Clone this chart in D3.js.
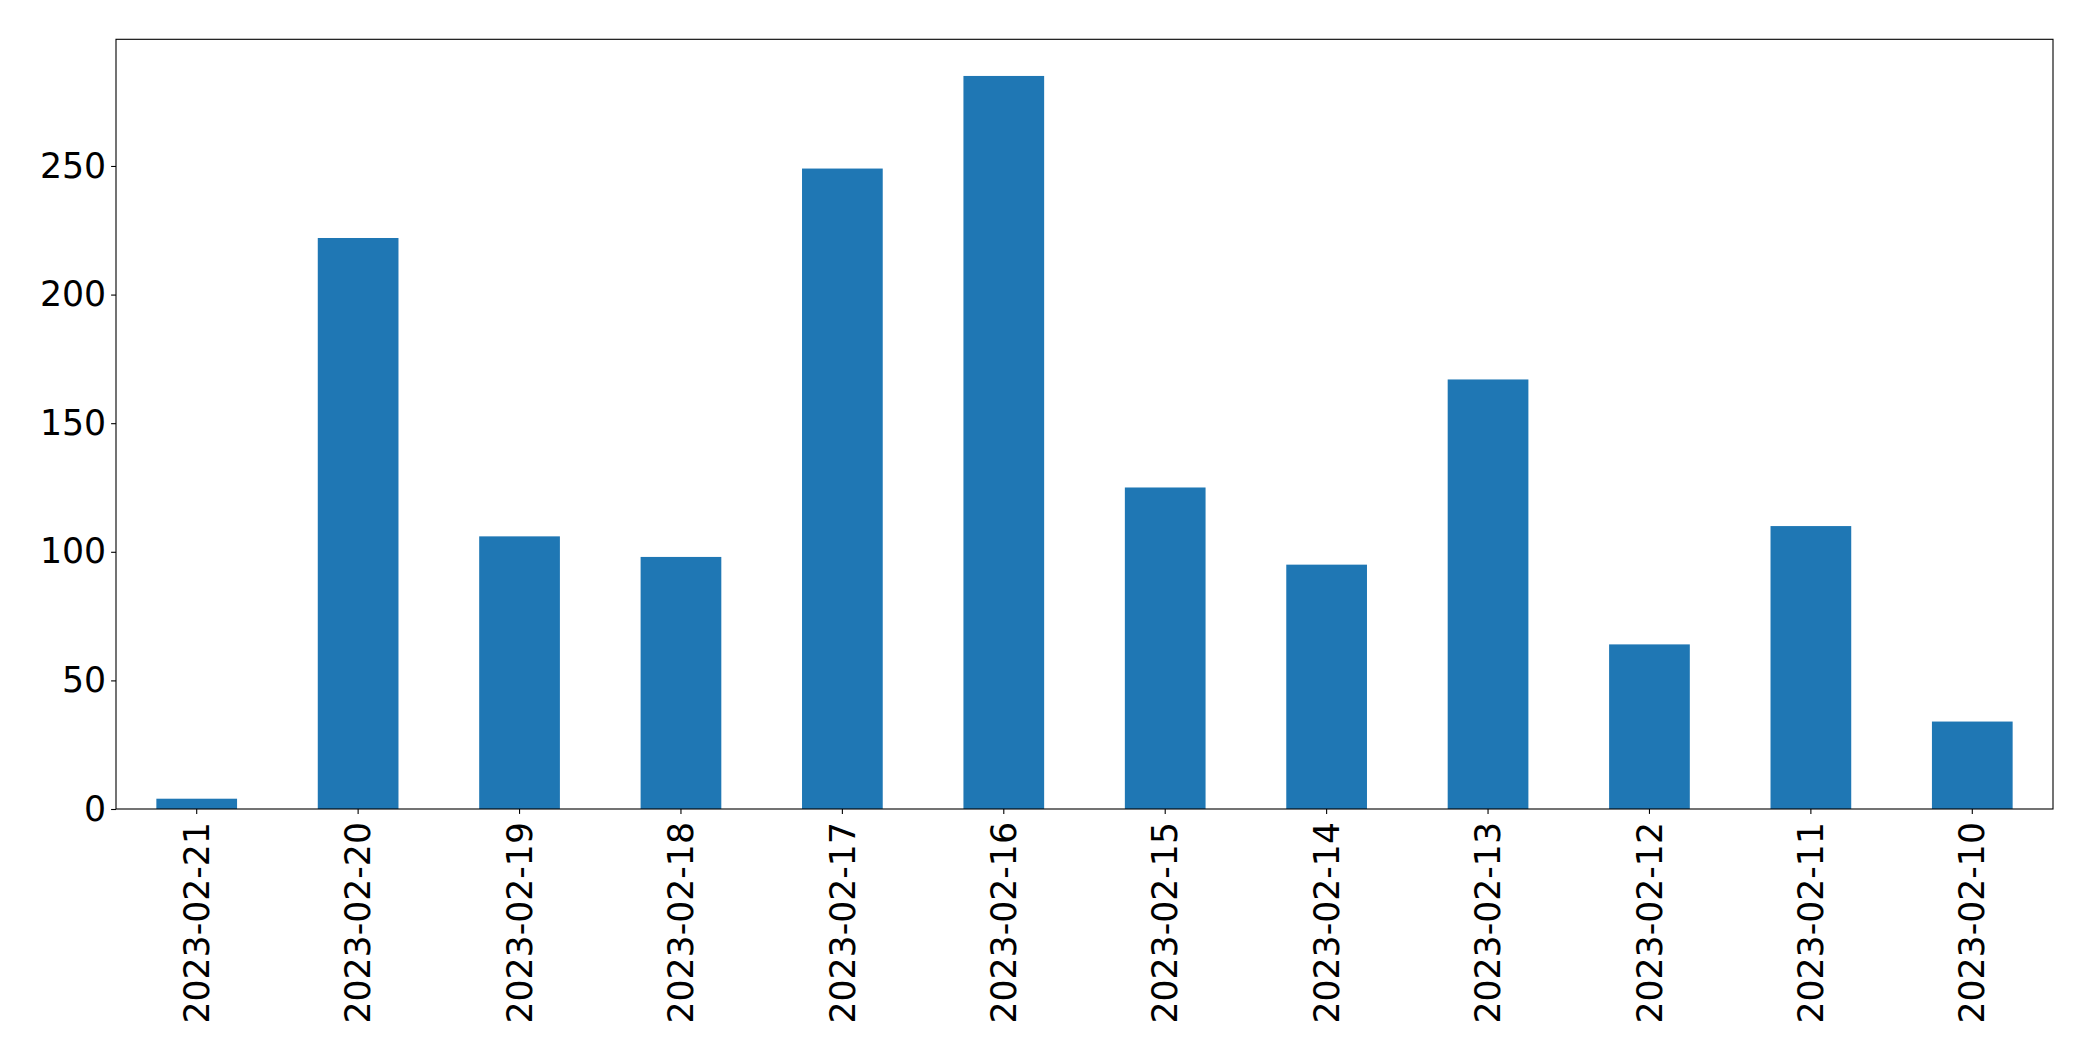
<!DOCTYPE html>
<html>
<head>
<meta charset="utf-8">
<script src="https://cdn.jsdelivr.net/npm/d3@7"></script>
<style>
  html, body { margin: 0; padding: 0; background: #fff; }
  svg { display: block; }
  text { font-family: "DejaVu Sans", sans-serif; }
</style>
</head>
<body>
<svg id="chart" width="2093" height="1061"></svg>
<script>
const categories = ["2023-02-21","2023-02-20","2023-02-19","2023-02-18","2023-02-17","2023-02-16",
                    "2023-02-15","2023-02-14","2023-02-13","2023-02-12","2023-02-11","2023-02-10"];
const values = [4, 222, 106, 98, 249, 285, 125, 95, 167, 64, 110, 34];
const yTicks = [0, 50, 100, 150, 200, 250];

(function () {
const plotLeft = 116, plotRight = 2053, plotTop = 39.3, plotBottom = 809;
const fontSize = 34.7;

const svg = d3.select("#chart");

const x = d3.scaleBand()
  .domain(categories)
  .range([plotLeft, plotRight])
  .paddingInner(0.5)
  .paddingOuter(0.25);

const yMax = d3.max(values) * 1.05;
const y = d3.scaleLinear().domain([0, yMax]).range([plotBottom, plotTop]);

// bars
svg.append("g")
  .selectAll("rect")
  .data(values)
  .join("rect")
  .attr("x", (d, i) => x(categories[i]))
  .attr("width", x.bandwidth())
  .attr("y", d => y(d))
  .attr("height", d => y(0) - y(d))
  .attr("fill", "#1f77b4");

// y axis
const yAxis = svg.append("g")
  .attr("transform", `translate(${plotLeft},0)`)
  .call(d3.axisLeft(y).tickValues(yTicks).tickFormat(d3.format("d")).tickSize(4.9).tickPadding(5));
yAxis.select(".domain").remove();
yAxis.selectAll(".tick line").attr("stroke", "#000").attr("stroke-width", 1.1);
yAxis.selectAll(".tick text")
  .attr("fill", "#000")
  .style("font-size", fontSize + "px")
  .style("font-family", "'DejaVu Sans', sans-serif");

// x axis
const xAxis = svg.append("g")
  .attr("transform", `translate(0,${plotBottom})`)
  .call(d3.axisBottom(x).tickSize(4.9).tickPadding(5));
xAxis.select(".domain").remove();
xAxis.selectAll(".tick line").attr("stroke", "#000").attr("stroke-width", 1.1);
xAxis.selectAll(".tick text")
  .attr("fill", "#000")
  .style("font-size", fontSize + "px")
  .style("font-family", "'DejaVu Sans', sans-serif")
  .attr("transform", "rotate(-90)")
  .attr("text-anchor", "end")
  .attr("x", -13)
  .attr("y", 0)
  .attr("dy", "0.35em");

// frame (spines)
svg.append("rect")
  .attr("x", plotLeft)
  .attr("y", plotTop)
  .attr("width", plotRight - plotLeft)
  .attr("height", plotBottom - plotTop)
  .attr("fill", "none")
  .attr("stroke", "#000")
  .attr("stroke-width", 1.1);
})();
</script>
</body>
</html>
